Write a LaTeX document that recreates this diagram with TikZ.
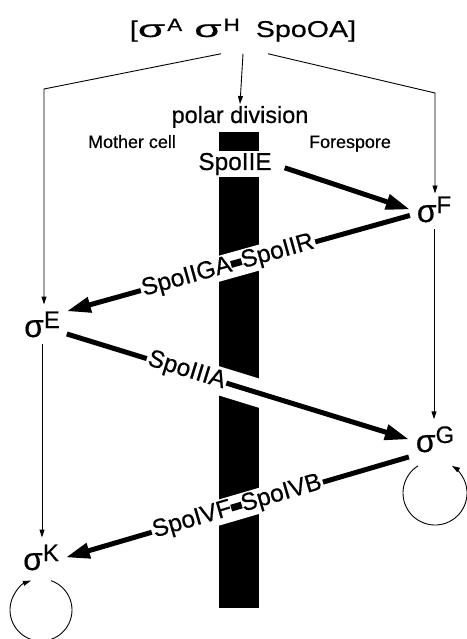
\documentclass[tikz,border=0pt]{standalone}
\usepackage{fontspec}
\usepackage{graphicx}
\setmainfont{Liberation Sans}
\newfontfamily\lblfont[FakeBold=0.5]{Liberation Sans}
\newfontfamily\widefont[FakeStretch=1.25, FakeBold=0.5]{Liberation Sans}
\usetikzlibrary{arrows.meta}
\newcommand{\sig}[1]{{\fontsize{32}{32}\selectfont σ}\raisebox{9bp}{#1}}
\newcommand{\topsig}[1]{\scalebox{1.55}[1.05]{σ}\hspace{2bp}\raisebox{6bp}{\fontsize{18}{18}\selectfont #1}}
\newcommand{\thickhy}{\rule[.14em]{.45em}{.28em}}
\tikzset{
  toplbl/.style={inner sep=2bp, outer sep=0bp, font=\widefont\fontsize{23}{23}\selectfont},
  pdlbl/.style={inner sep=2bp, outer sep=0bp, font=\lblfont\fontsize{23.5}{23.5}\selectfont},
  sigbox/.style={inner sep=2bp, outer sep=5bp, font=\lblfont\fontsize{24}{24}\selectfont},
  protlbl/.style={fill=white, inner sep=1.5bp, font=\lblfont\fontsize{24.5}{24.5}\selectfont},
  celllbl/.style={inner sep=1bp, font=\lblfont\fontsize{18}{18}\selectfont},
  thickarr/.style={-{Triangle[length=24bp,width=15bp]}, line width=5bp},
  thinarr/.style={-{Triangle[length=8bp,width=5bp]}, line width=0.9bp},
  halo/.style={draw=white, line width=28bp},
}
\begin{document}
\begin{tikzpicture}[x=1bp, y=-1bp]
  \useasboundingbox (0,0) rectangle (467,639);
  % membrane
  \fill (219,132) rectangle (259,608);
  \node[toplbl, anchor=base] (top) at (243,37) {[\topsig{A}\hspace{12bp}\topsig{H}\hspace{16bp}SpoOA]};
  \node[pdlbl, anchor=base, fill=white] (pd) at (240,123) {polar division};
  \node[celllbl, anchor=base] (mother) at (132,148) {Mother cell};
  \node[celllbl, anchor=base] (fore) at (350,148) {Forespore};
  \node[protlbl, anchor=base] (iie) at (235,170) {SpoIIE};
  \node[sigbox, anchor=base] (sF) at (434,222) {\sig{F}};
  \node[sigbox, anchor=base] (sE) at (42,337) {\sig{E}};
  \node[sigbox, anchor=base] (sG) at (435,452) {\sig{G}};
  \node[sigbox, anchor=base] (sK) at (41,570) {\sig{K}};
  \coordinate (lbend) at (44,89);
  \coordinate (rbend) at (435,93);
  \coordinate (gloop) at (435,493);
  \coordinate (kloop) at (41,610);
  \begin{scope}
    \clip (219,132) rectangle (259,608);
    \draw[halo] (sE.-21) -- (sG.west);
  \end{scope}
  \draw[thinarr] ([xshift=-22bp,yshift=-10bp]top.south) -- (lbend) -- (lbend |- sE.north);
  \draw[thinarr] ([yshift=-10bp]top.south) -- (pd.north);
  \draw[thinarr, shorten >=-4bp] ([xshift=25bp,yshift=-10bp]top.south) -- (rbend) -- (rbend |- sF.north);
  \draw[thinarr] (sF.south) -- (sF.south |- sG.north);
  \draw[thinarr] (sE.south) -- (sE.south |- sK.north);
  \draw[thickarr, shorten <=12bp] (iie.east) -- (sF.west);
  \draw[thickarr] (sF.194) -- (sE.28) node[protlbl, sloped, pos=.53] (iigalbl) {SpoIIGA\thickhy SpoIIR};
  \draw[thickarr] (sE.-21) -- (sG.west) node[protlbl, sloped, pos=.35] (iiialbl) {SpoIIIA};
  \draw[thickarr] (sG.214) -- (sK.east) node[protlbl, sloped, pos=.5] (ivflbl) {SpoIVF\thickhy SpoIVB};
  \draw[thinarr] (gloop) ++(-122:32) arc[start angle=-122, end angle=-418, radius=32];
  \draw[thinarr] (kloop) ++(-71:31) arc[start angle=-71, end angle=251, radius=31];
\end{tikzpicture}
\end{document}
